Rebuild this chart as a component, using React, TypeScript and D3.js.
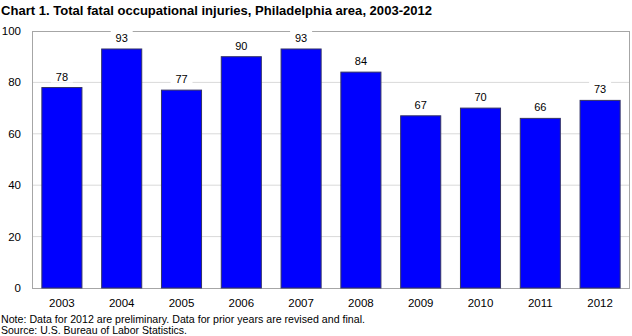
import React from "react";
import * as d3 from "d3";

const years = ["2003", "2004", "2005", "2006", "2007", "2008", "2009", "2010", "2011", "2012"];
const values = [78, 93, 77, 90, 93, 84, 67, 70, 66, 73];
const yTicks = [0, 20, 40, 60, 80, 100];
const title = "Chart 1. Total fatal occupational injuries, Philadelphia area, 2003-2012";
const noteLines = [
  "Note: Data for 2012 are preliminary. Data for prior years are revised and final.",
  "Source: U.S. Bureau of Labor Statistics.",
];

const W = 632, H = 336;
const m = { left: 32, right: 2, top: 31, bottom: 48 };

export default function App() {
  const x = d3.scaleBand().domain(years).range([m.left, W - m.right]).paddingInner(0.33).paddingOuter(0.165);
  const y = d3.scaleLinear().domain([0, 100]).range([H - m.bottom, m.top]);
  const font = "'Liberation Sans', Arial, sans-serif";
  return (
    <svg width={W} height={H} style={{ position: "absolute", left: 0, top: 0 }} fontFamily={font}>
      <text x={1} y={15} fontSize={13} fontWeight="bold" textLength={431} lengthAdjust="spacingAndGlyphs" fill="#000">{title}</text>
      {yTicks.map((t) => (
        <g key={t}>
          {t > 0 && t < 100 && (
            <line x1={m.left} x2={W - m.right} y1={y(t)} y2={y(t)} stroke="#d9d9d9" strokeWidth={1} />
          )}
          <text x={m.left - 11} y={y(t) + 4} fontSize={11.5} textAnchor="end" fill="#000">{t}</text>
        </g>
      ))}
      <rect x={m.left + 0.5} y={m.top + 0.5} width={W - m.right - m.left - 1} height={H - m.bottom - m.top} fill="none" stroke="#a6a6a6" strokeWidth={1} />
      {years.map((yr, i) => {
        const v = values[i];
        const bx = x(yr)!;
        const cx = bx + x.bandwidth() / 2;
        return (
          <g key={yr}>
            <rect x={bx} y={y(v)} width={x.bandwidth()} height={y(0) - y(v)} fill="#0000ff" stroke="#333366" strokeWidth={1} />
            <rect x={cx - 11} y={y(v) - 19} width={22} height={14} fill="#fff" />
            <text x={cx} y={y(v) - 7} fontSize={11} textAnchor="middle" fill="#000">{v}</text>
            <text x={cx} y={H - m.bottom + 18.5} fontSize={11.5} textAnchor="middle" fill="#000">{yr}</text>
          </g>
        );
      })}
      <text x={1} y={323} fontSize={10.5} textLength={364} lengthAdjust="spacingAndGlyphs" fill="#000">{noteLines[0]}</text>
      <text x={1} y={334} fontSize={10.5} textLength={186} lengthAdjust="spacingAndGlyphs" fill="#000">{noteLines[1]}</text>
    </svg>
  );
}
